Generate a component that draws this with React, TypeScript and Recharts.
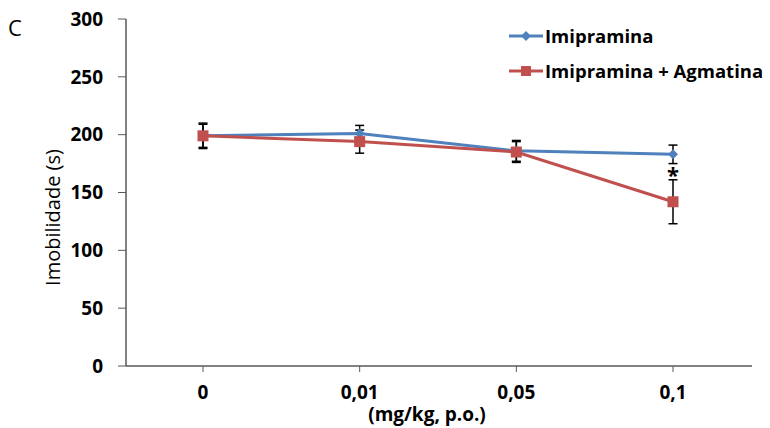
import React from 'react';
import { LineChart, Line, XAxis, YAxis, ErrorBar, Label } from 'recharts';

const doses = ['0', '0,01', '0,05', '0,1'];
const imipramina = [199, 201, 186, 183];
const imipraminaErr = [10, 7, 9, 8];
const agmatina = [199, 194, 185, 142];
const agmatinaErr = [11, 10, 9, 19];
const yTicks = [0, 50, 100, 150, 200, 250, 300];

const data = doses.map((d, i) => ({
  dose: d,
  imi: imipramina[i],
  imiErr: imipraminaErr[i],
  agm: agmatina[i],
  agmErr: agmatinaErr[i],
}));

const BLUE = '#4F81BD';
const RED = '#C0504D';
const AXIS = '#595959';
const FONT = '"Open Sans", "Liberation Sans", sans-serif';

const Diamond = (props: any) => {
  const { cx, cy } = props;
  if (cx == null || cy == null) return null;
  return <path d={`M${cx},${cy - 5}L${cx + 5},${cy}L${cx},${cy + 5}L${cx - 5},${cy}Z`} fill={BLUE} />;
};

const Square = (props: any) => {
  const { cx, cy } = props;
  if (cx == null || cy == null) return null;
  return <rect x={cx - 5.5} y={cy - 5.5} width={11} height={11} fill={RED} />;
};

// asterisk under the last Imipramina point
const Star = (props: any) => {
  const { x, y, index } = props;
  if (index !== doses.length - 1) return null;
  return (
    <text x={x} y={y + 29} textAnchor="middle" fontSize={22} fontWeight="bold" fontFamily={FONT} fill="#000">
      *
    </text>
  );
};

const Overlay = () => (
  <svg width={770} height={428} style={{ position: 'absolute', left: 0, top: 0, pointerEvents: 'none' }}>
    <text x={8} y={36} fontSize={22} fontFamily={FONT} fill="#000">C</text>
    <line x1={509} y1={36} x2={543} y2={36} stroke={BLUE} strokeWidth={3} />
    <path d="M526,31L531,36L526,41L521,36Z" fill={BLUE} />
    <text x={545} y={42.5} fontSize={18.5} fontWeight="bold" fontFamily={FONT} fill="#000">Imipramina</text>
    <line x1={509} y1={71} x2={543} y2={71} stroke={RED} strokeWidth={3} />
    <rect x={521} y={66} width={10} height={10} fill={RED} />
    <text x={545} y={77.5} fontSize={18.5} fontWeight="bold" fontFamily={FONT} fill="#000">Imipramina + Agmatina</text>
  </svg>
);

export default function App() {
  return (
    <div style={{ position: 'absolute', left: 0, top: 0, width: 770, height: 428, background: '#fff', fontFamily: FONT }}>
      <LineChart width={770} height={428} data={data} margin={{ top: 19, right: 18, bottom: 0, left: 0 }}>
        <XAxis
          dataKey="dose"
          height={62}
          padding={{ left: 77, right: 79 }}
          axisLine={{ stroke: AXIS, strokeWidth: 1.5 }}
          tickLine={{ stroke: AXIS }}
          tickSize={6}
          tickMargin={14}
          tick={{ fontSize: 19, fontWeight: 'bold', fill: '#000', fontFamily: FONT }}
        >
          <Label value="(mg/kg, p.o.)" position="bottom" offset={-20} dx={-12} style={{ fontSize: 19, fontWeight: 'bold', fill: '#000', fontFamily: FONT }} />
        </XAxis>
        <YAxis
          width={126}
          domain={[0, 300]}
          ticks={yTicks}
          interval={0}
          axisLine={{ stroke: AXIS, strokeWidth: 1.5 }}
          tickLine={{ stroke: AXIS }}
          tickSize={8}
          tickMargin={15}
          tick={{ fontSize: 19, fontWeight: 'bold', fill: '#000', fontFamily: FONT }}
        >
          <Label value="Imobilidade (s)" angle={-90} position="insideLeft" dx={48} dy={25} style={{ fontSize: 20, fill: '#000', fontFamily: FONT, textAnchor: 'middle' }} />
        </YAxis>
        <Line
          dataKey="imi"
          stroke={BLUE}
          strokeWidth={3}
          dot={<Diamond />}
          activeDot={false}
          isAnimationActive={false}
          label={<Star />}
        >
          <ErrorBar dataKey="imiErr" width={4.5} stroke="#000" strokeWidth={1.5} />
        </Line>
        <Line
          dataKey="agm"
          stroke={RED}
          strokeWidth={3}
          dot={<Square />}
          activeDot={false}
          isAnimationActive={false}
        >
          <ErrorBar dataKey="agmErr" width={4.5} stroke="#000" strokeWidth={1.5} />
        </Line>
      </LineChart>
      <Overlay />
    </div>
  );
}
